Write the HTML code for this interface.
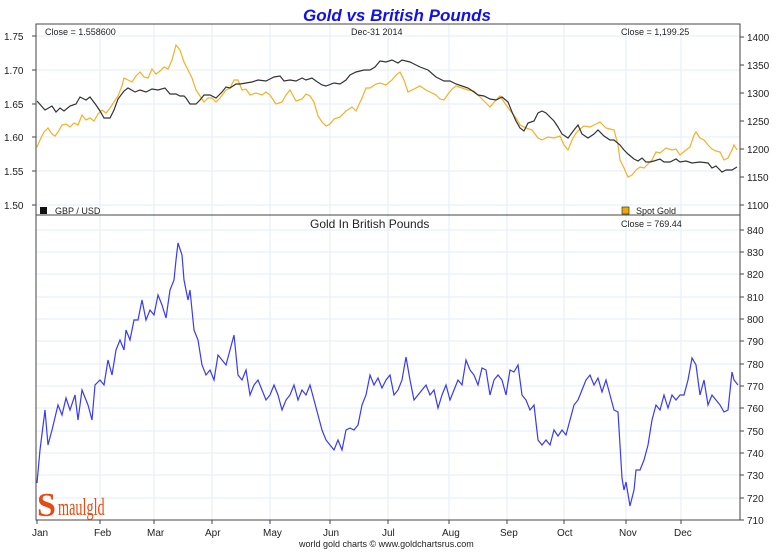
<!DOCTYPE html>
<html><head><meta charset="utf-8"><style>
html,body{margin:0;padding:0;background:#fff;}
svg{display:block;font-family:"Liberation Sans",sans-serif;}
</style></head><body>
<svg width="781" height="555" viewBox="0 0 781 555" xmlns="http://www.w3.org/2000/svg">
<rect width="781" height="555" fill="#fff"/>
<text x="397" y="21" text-anchor="middle" font-size="17" font-weight="bold" font-style="italic" fill="#1010ee">Gold vs British Pounds</text>
<g stroke="#e3eef8" stroke-width="1">
<line x1="100" y1="24" x2="100" y2="520"/><line x1="154" y1="24" x2="154" y2="520"/><line x1="212" y1="24" x2="212" y2="520"/><line x1="270" y1="24" x2="270" y2="520"/><line x1="330" y1="24" x2="330" y2="520"/><line x1="388" y1="24" x2="388" y2="520"/><line x1="449" y1="24" x2="449" y2="520"/><line x1="507" y1="24" x2="507" y2="520"/><line x1="564" y1="24" x2="564" y2="520"/><line x1="626" y1="24" x2="626" y2="520"/><line x1="681" y1="24" x2="681" y2="520"/>
<line x1="36" y1="36" x2="740" y2="36"/><line x1="36" y1="70" x2="740" y2="70"/><line x1="36" y1="104" x2="740" y2="104"/><line x1="36" y1="137" x2="740" y2="137"/><line x1="36" y1="171" x2="740" y2="171"/><line x1="36" y1="205" x2="740" y2="205"/>
<line x1="36" y1="230" x2="740" y2="230"/><line x1="36" y1="252" x2="740" y2="252"/><line x1="36" y1="274" x2="740" y2="274"/><line x1="36" y1="297" x2="740" y2="297"/><line x1="36" y1="319" x2="740" y2="319"/><line x1="36" y1="341" x2="740" y2="341"/><line x1="36" y1="364" x2="740" y2="364"/><line x1="36" y1="386" x2="740" y2="386"/><line x1="36" y1="408" x2="740" y2="408"/><line x1="36" y1="431" x2="740" y2="431"/><line x1="36" y1="453" x2="740" y2="453"/><line x1="36" y1="475" x2="740" y2="475"/><line x1="36" y1="498" x2="740" y2="498"/>
</g>
<rect x="36" y="24" width="704" height="496" fill="none" stroke="#444" stroke-width="1"/>
<line x1="36" y1="215" x2="740" y2="215" stroke="#444"/>
<g font-size="10" fill="#222">
<text x="4" y="40">1.75</text><text x="4" y="74">1.70</text><text x="4" y="108">1.65</text><text x="4" y="141">1.60</text><text x="4" y="175">1.55</text><text x="4" y="209">1.50</text>
<text x="747" y="41">1400</text><text x="747" y="69">1350</text><text x="747" y="97">1300</text><text x="747" y="125">1250</text><text x="747" y="153">1200</text><text x="747" y="181">1150</text><text x="747" y="209">1100</text>
<text x="747" y="234">840</text><text x="747" y="256">830</text><text x="747" y="278">820</text><text x="747" y="301">810</text><text x="747" y="323">800</text><text x="747" y="345">790</text><text x="747" y="368">780</text><text x="747" y="390">770</text><text x="747" y="412">760</text><text x="747" y="435">750</text><text x="747" y="457">740</text><text x="747" y="479">730</text><text x="747" y="502">720</text><text x="747" y="524">710</text>
<text x="32" y="536">Jan</text><text x="94" y="536">Feb</text><text x="147" y="536">Mar</text><text x="205" y="536">Apr</text><text x="263" y="536">May</text><text x="323" y="536">Jun</text><text x="382" y="536">Jul</text><text x="442" y="536">Aug</text><text x="500" y="536">Sep</text><text x="557" y="536">Oct</text><text x="619" y="536">Nov</text><text x="674" y="536">Dec</text>
<text x="45" y="35" font-size="9">Close = 1.558600</text>
<text x="351" y="35" font-size="9">Dec-31  2014</text>
<text x="621" y="35" font-size="9">Close = 1,199.25</text>
<text x="621" y="227" font-size="9">Close = 769.44</text>
<text x="55" y="214" font-size="9">GBP / USD</text>
<text x="636" y="214" font-size="9">Spot Gold</text>
<text x="310" y="228" font-size="12">Gold In British Pounds</text>
<text x="299" y="547" font-size="9">world gold charts © www.goldchartsrus.com</text>
</g>
<rect x="40" y="207" width="7" height="7" fill="#111"/>
<rect x="622" y="207" width="7" height="7" fill="#f0a800" stroke="#333" stroke-width="0.7"/>
<g stroke="#444" stroke-width="1">
<line x1="32" y1="36" x2="36" y2="36"/><line x1="32" y1="70" x2="36" y2="70"/><line x1="32" y1="104" x2="36" y2="104"/><line x1="32" y1="137" x2="36" y2="137"/><line x1="32" y1="171" x2="36" y2="171"/><line x1="32" y1="205" x2="36" y2="205"/>
<line x1="740" y1="37" x2="744" y2="37"/><line x1="740" y1="65" x2="744" y2="65"/><line x1="740" y1="93" x2="744" y2="93"/><line x1="740" y1="121" x2="744" y2="121"/><line x1="740" y1="149" x2="744" y2="149"/><line x1="740" y1="177" x2="744" y2="177"/><line x1="740" y1="205" x2="744" y2="205"/>
<line x1="740" y1="230" x2="744" y2="230"/><line x1="740" y1="252" x2="744" y2="252"/><line x1="740" y1="274" x2="744" y2="274"/><line x1="740" y1="297" x2="744" y2="297"/><line x1="740" y1="319" x2="744" y2="319"/><line x1="740" y1="341" x2="744" y2="341"/><line x1="740" y1="364" x2="744" y2="364"/><line x1="740" y1="386" x2="744" y2="386"/><line x1="740" y1="408" x2="744" y2="408"/><line x1="740" y1="431" x2="744" y2="431"/><line x1="740" y1="453" x2="744" y2="453"/><line x1="740" y1="475" x2="744" y2="475"/><line x1="740" y1="498" x2="744" y2="498"/><line x1="740" y1="520" x2="744" y2="520"/>
<line x1="37" y1="520" x2="37" y2="524"/><line x1="100" y1="520" x2="100" y2="524"/><line x1="154" y1="520" x2="154" y2="524"/><line x1="212" y1="520" x2="212" y2="524"/><line x1="270" y1="520" x2="270" y2="524"/><line x1="330" y1="520" x2="330" y2="524"/><line x1="388" y1="520" x2="388" y2="524"/><line x1="449" y1="520" x2="449" y2="524"/><line x1="507" y1="520" x2="507" y2="524"/><line x1="564" y1="520" x2="564" y2="524"/><line x1="626" y1="520" x2="626" y2="524"/><line x1="681" y1="520" x2="681" y2="524"/>
</g>
<polyline fill="none" stroke="#f5b025" stroke-width="1.2" points="37,147 40,140 44,132 48,128 52,134 55,136 58,132 62,125 66,124 70,127 74,123 78,125 82,115 86,120 90,118 94,121 98,114 102,110 106,113 110,108 114,102 118,96 122,86 124,78 128,80 132,82 136,76 140,72 144,77 148,78 152,69 156,74 160,71 164,67 168,69 172,60 176,45 180,50 184,62 188,70 192,78 196,90 200,96 204,102 208,98 212,98 216,102 220,98 226,90 230,88 234,80 238,80 242,90 246,89 250,95 256,93 262,95 266,92 270,95 276,104 282,102 286,95 290,90 296,101 302,99 306,94 310,96 314,102 318,116 322,122 326,126 330,124 334,119 340,117 346,111 352,107 356,111 362,98 366,88 370,88 376,84 380,83 386,85 392,80 396,75 400,72 404,80 408,92 414,89 420,86 426,90 430,92 436,95 440,99 444,100 448,94 452,89 456,86 462,88 468,90 474,91 480,97 486,103 490,107 496,100 500,96 506,105 512,113 516,118 520,125 526,128 532,130 538,138 542,140 548,137 554,138 560,136 564,145 568,150 572,140 576,133 580,129 584,126 590,127 596,124 600,122 606,128 610,129 614,130 618,145 620,160 624,168 628,177 632,175 636,170 640,167 644,168 648,164 652,160 656,152 660,153 666,148 672,150 676,149 680,155 686,150 690,147 694,135 696,132 700,138 704,140 708,145 712,149 716,151 720,152 724,160 728,158 732,150 734,145 737,150"/>
<polyline fill="none" stroke="#333" stroke-width="1.2" points="37,101 45,110 52,106 56,112 60,108 64,111 70,106 76,104 80,97 86,100 90,97 96,105 100,111 104,118 110,118 114,110 118,99 124,91 128,88 135,92 140,90 146,92 152,89 158,90 165,88 170,94 176,94 180,96 184,96 186,98 190,104 196,104 200,100 204,95 210,95 216,98 222,92 226,87 230,88 236,84 240,84 246,83 252,82 258,80 266,81 270,79 274,77 280,76 284,81 290,80 296,81 302,78 306,80 312,78 316,81 322,85 326,86 334,83 340,84 346,80 350,75 356,72 364,70 370,70 375,67 380,61 386,62 392,60 398,63 402,60 410,62 414,64 420,67 428,70 436,77 444,81 450,81 456,84 462,86 468,88 474,92 478,95 484,96 490,99 496,100 502,97 508,102 512,112 516,121 520,128 524,131 528,123 534,121 538,113 542,111 546,113 550,117 554,121 558,127 562,134 568,138 574,130 578,125 582,134 588,138 594,134 598,130 604,136 610,140 614,140 620,145 624,150 628,154 634,159 638,161 642,158 646,162 650,162 654,161 660,159 664,162 670,162 676,159 680,162 686,161 692,163 700,162 708,163 712,168 716,166 722,172 726,170 732,170 737,167"/>
<polyline fill="none" stroke="#3a3af0" stroke-width="1.2" points="37,483 40,450 45,410 48,445 52,430 58,405 62,415 66,398 70,410 75,395 78,420 82,390 88,405 92,420 95,385 100,380 104,385 108,360 112,375 116,350 120,340 124,350 126,330 130,340 134,320 138,320 142,300 146,320 150,310 154,315 158,295 162,305 166,318 170,290 174,280 176,260 178,243 182,255 184,280 188,300 190,290 194,330 198,340 202,365 206,375 210,370 214,380 218,355 222,360 226,365 230,350 234,335 238,375 242,380 246,370 250,395 254,385 258,380 262,390 266,400 270,395 274,385 278,395 282,410 286,400 290,395 294,385 298,400 302,390 306,395 310,385 314,400 318,415 322,430 326,440 330,445 334,450 338,440 342,450 346,430 350,428 354,430 358,425 362,405 366,395 370,375 374,385 378,378 382,388 386,380 390,375 394,395 398,390 402,380 406,357 410,380 414,400 418,395 422,390 426,385 430,395 434,390 438,408 442,395 446,385 450,400 454,390 458,380 462,385 466,360 470,370 474,375 478,385 482,368 486,370 490,395 494,380 498,375 502,380 506,395 510,370 514,372 518,365 522,395 526,400 530,410 534,405 538,440 542,445 546,440 550,445 554,430 558,436 562,430 566,435 570,420 574,405 578,400 582,390 586,380 590,375 594,385 598,378 602,392 606,380 610,395 614,410 618,412 620,445 622,478 624,490 626,482 630,506 634,490 636,470 640,470 644,460 648,445 652,420 656,405 660,410 664,395 668,408 672,395 676,400 680,395 684,395 688,380 692,358 696,365 700,395 704,380 708,405 712,395 716,400 720,405 724,412 728,410 732,372 734,380 738,385"/>
<text x="37" y="516" font-family="Liberation Serif,serif" font-size="34" font-weight="bold" fill="#e84a10">S</text>
<text x="58" y="515" font-family="Liberation Serif,serif" font-size="19" fill="#e84a10" transform="translate(58,515) scale(0.75,1.25) translate(-58,-515)">maulgld</text>
</svg>
</body></html>
